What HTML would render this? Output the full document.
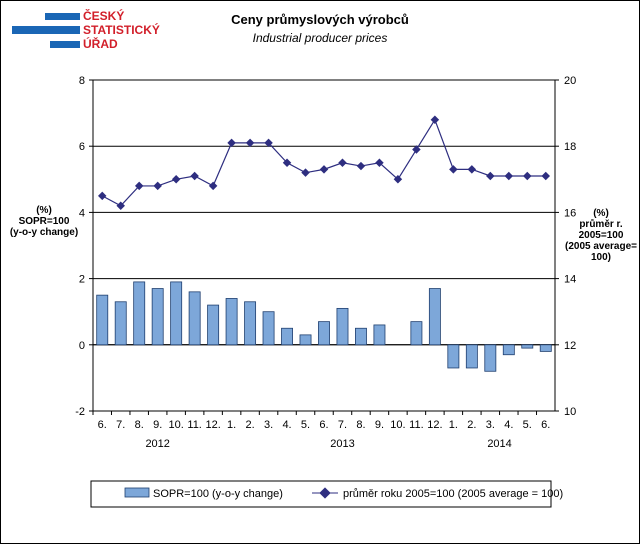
<!DOCTYPE html>
<html><head><meta charset="utf-8"><style>
body{margin:0;background:#fff}
svg{display:block;font-family:"Liberation Sans",Arial,sans-serif}
</style></head><body>
<svg id="c" width="640" height="544" viewBox="0 0 640 544">
<rect x="0.5" y="0.5" width="639" height="543" fill="#fff" stroke="#000"/>
<g>
<rect x="45" y="13" width="35" height="7" fill="#1a66b5"/>
<rect x="12" y="26" width="68" height="8" fill="#1a66b5"/>
<rect x="50" y="41" width="30" height="7" fill="#1a66b5"/>
<text x="83" y="20" font-size="12" font-weight="bold" fill="#d21f2a">ČESKÝ</text>
<text x="83" y="34" font-size="12" font-weight="bold" fill="#d21f2a">STATISTICKÝ</text>
<text x="83" y="48" font-size="12" font-weight="bold" fill="#d21f2a">ÚŘAD</text>
</g>
<text x="320" y="24" font-size="13" font-weight="bold" text-anchor="middle">Ceny průmyslových  výrobců</text>
<text x="320" y="42" font-size="12" font-style="italic" text-anchor="middle">Industrial producer  prices</text>
<g font-size="10" font-weight="bold" text-anchor="middle">
<text x="44" y="213"><tspan x="44">(%)</tspan><tspan x="44" dy="11">SOPR=100</tspan><tspan x="44" dy="11">(y-o-y change)</tspan></text>
<text x="601" y="216"><tspan x="601">(%)</tspan><tspan x="601" dy="11">průměr r.</tspan><tspan x="601" dy="11">2005=100</tspan><tspan x="601" dy="11">(2005 average=</tspan><tspan x="601" dy="11">100)</tspan></text>
</g>
<g id="plot"></g>
<rect x="91" y="481" width="460" height="26" fill="none" stroke="#000"/>
<g>
<rect x="125" y="488" width="24" height="9" fill="#7da7d9" stroke="#1f3f6f" stroke-width="0.8"/>
<text x="153" y="497" font-size="11">SOPR=100 (y-o-y change)</text>
</g>
<g>
<line x1="312" y1="493" x2="338" y2="493" stroke="#2e2e80"/>
<rect x="321" y="489" width="8" height="8" fill="#2e2e80" transform="rotate(45 325 493)"/>
<text x="343" y="497" font-size="11">průměr roku 2005=100  (2005 average = 100)</text>
</g>
</svg>
<script>
const months=["6.","7.","8.","9.","10.","11.","12.","1.","2.","3.","4.","5.","6.","7.","8.","9.","10.","11.","12.","1.","2.","3.","4.","5.","6."];
const years=["2012","2013","2014"];
const yearCenters=[3,13,21.5];
const yoy=[1.5,1.3,1.9,1.7,1.9,1.6,1.2,1.4,1.3,1.0,0.5,0.3,0.7,1.1,0.5,0.6,0,0.7,1.7,-0.7,-0.7,-0.8,-0.3,-0.1,-0.2];
const index=[16.5,16.2,16.8,16.8,17.0,17.1,16.8,18.1,18.1,18.1,17.5,17.2,17.3,17.5,17.4,17.5,17.0,17.9,18.8,17.3,17.3,17.1,17.1,17.1,17.1];
const leftTicks=[-2,0,2,4,6,8];
const rightTicks=[10,12,14,16,18,20];
const L=93,R=555,T=80,B=411;
const bw=(R-L)/months.length;
const x=i=>L+bw*(i+0.5);
const yL=v=>B-(v+2)/10*(B-T);
const yR=v=>B-(v-10)/10*(B-T);
const g=document.getElementById('plot');
const NS="http://www.w3.org/2000/svg";
function mk(t,a){const e=document.createElementNS(NS,t);for(const k in a)e.setAttribute(k,a[k]);g.appendChild(e);return e;}
leftTicks.forEach(v=>{if(v===-2)return;const l=mk('line',{x1:L,x2:R,y1:yL(v),y2:yL(v),stroke:'#000','stroke-width':1});

});
const f=mk('rect',{x:L,y:T,width:R-L,height:B-T,fill:'none',stroke:'#000'});


leftTicks.forEach(v=>{const t=mk('text',{x:L-8,y:yL(v)+4,'font-size':11,'text-anchor':'end'});t.textContent=v;


mk('line',{x1:L-4,x2:L,y1:yL(v),y2:yL(v),stroke:'#000'});});
rightTicks.forEach(v=>{const t=mk('text',{x:R+9,y:yR(v)+4,'font-size':11});t.textContent=v;


mk('line',{x1:R,x2:R+4,y1:yR(v),y2:yR(v),stroke:'#000'});});
mk('line',{x1:L,x2:R,y1:yL(0),y2:yL(0),stroke:'#000'});
months.forEach((m,i)=>{const t=mk('text',{x:x(i),y:B+17,'font-size':11,'text-anchor':'middle'});t.textContent=m;


mk('line',{x1:L+bw*i,x2:L+bw*i,y1:B,y2:B+4,stroke:'#000'});});
years.forEach((y,i)=>{const t=mk('text',{x:x(yearCenters[i]),y:B+36,'font-size':11,'text-anchor':'middle'});t.textContent=y;

});
yoy.forEach((v,i)=>{if(v===0)return;const y0=yL(0),y1=yL(v);
const r=mk('rect',{x:x(i)-bw*0.3,y:Math.min(y0,y1),width:bw*0.6,height:Math.abs(y1-y0),fill:'#7da7d9',stroke:'#1f3f6f','stroke-width':0.8});

});
const p=mk('polyline',{points:index.map((v,i)=>x(i)+','+yR(v)).join(' '),fill:'none',stroke:'#2e2e80','stroke-width':1.2});


index.forEach((v,i)=>{const d=mk('rect',{x:x(i)-3,y:yR(v)-3,width:6,height:6,fill:'#2e2e80',transform:`rotate(45 ${x(i)} ${yR(v)})`});

});
</script>
</body></html>
